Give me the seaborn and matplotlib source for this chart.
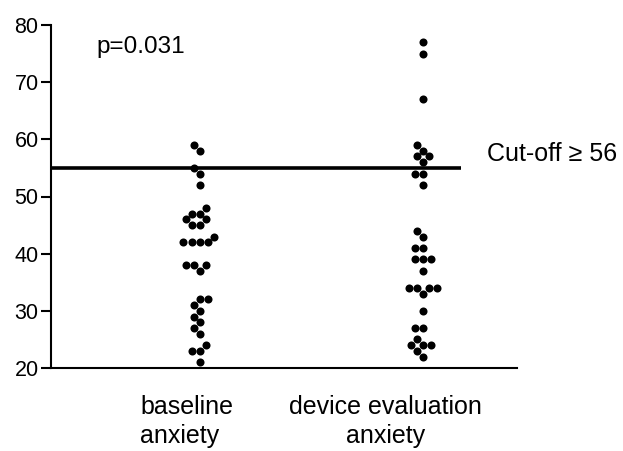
import matplotlib
matplotlib.use("Agg")
import matplotlib.pyplot as plt
import matplotlib.transforms as mtransforms
import seaborn as sns
import pandas as pd

# ---- data ----
categories = ["baseline\nanxiety", "device evaluation\nanxiety"]
baseline_anxiety = [59, 58, 55, 54, 52, 48, 47, 47, 46, 46, 45, 45, 43, 42, 42, 42, 42,
                    38, 38, 38, 37, 32, 32, 31, 30, 29, 28, 27, 26, 24, 23, 23, 21]
device_anxiety = [77, 75, 67, 59, 58, 57, 57, 56, 54, 54, 52, 44, 43, 41, 41, 39, 39, 39,
                  37, 34, 34, 34, 34, 33, 30, 27, 27, 25, 24, 24, 24, 23, 22]
cutoff_value = 55
cutoff_label = "Cut-off \u2265 56"
p_label = "p=0.031"
y_ticks = [20, 30, 40, 50, 60, 70, 80]

df = pd.DataFrame({
    "group": [categories[0]] * len(baseline_anxiety) + [categories[1]] * len(device_anxiety),
    "score": baseline_anxiety + device_anxiety,
})

sns.set_theme(style="ticks")
plt.rcParams["font.family"] = ["Liberation Sans", "DejaVu Sans"]

fig = plt.figure(figsize=(6.23, 4.51), dpi=100)
ax = fig.add_axes([51 / 623, 83 / 451, 466 / 623, 343 / 451])

sns.swarmplot(data=df, x="group", y="score", ax=ax, color="black", size=5.8,
              linewidth=0, order=categories)

ax.set_xlim(-0.668, 1.4215)
ax.set_ylim(20, 80)
ax.set_yticks(y_ticks)
ax.tick_params(axis="y", labelsize=15.5, length=7, width=1.5, direction="out",
               color="black", labelcolor="black", pad=2)
ax.set_xticks([])
ax.set_xlabel("")
ax.set_ylabel("")
for s in ["top", "right"]:
    ax.spines[s].set_visible(False)
for s in ["left", "bottom"]:
    ax.spines[s].set_linewidth(1.5)
    ax.spines[s].set_color("black")

# cut-off line
ax.plot([-0.668, 1.17], [cutoff_value, cutoff_value], color="black", lw=2.6,
        solid_capstyle="butt", zorder=1)
ax.text(1.287, 57.5, cutoff_label, fontsize=18, ha="left", va="center", color="black")
ax.text(-0.462, 76.2, p_label, fontsize=17.5, ha="left", va="center", color="black")

# category labels
trans = mtransforms.blended_transform_factory(ax.transData, ax.transAxes)
ax.text(-0.269, -0.08, categories[0], transform=trans, fontsize=18, ha="left",
        va="top", multialignment="left", linespacing=1.25, color="black")
ax.text(0.83, -0.078, categories[1], transform=trans, fontsize=18, ha="center",
        va="top", multialignment="center", linespacing=1.25, color="black")

fig.savefig("out.png", dpi=100)
